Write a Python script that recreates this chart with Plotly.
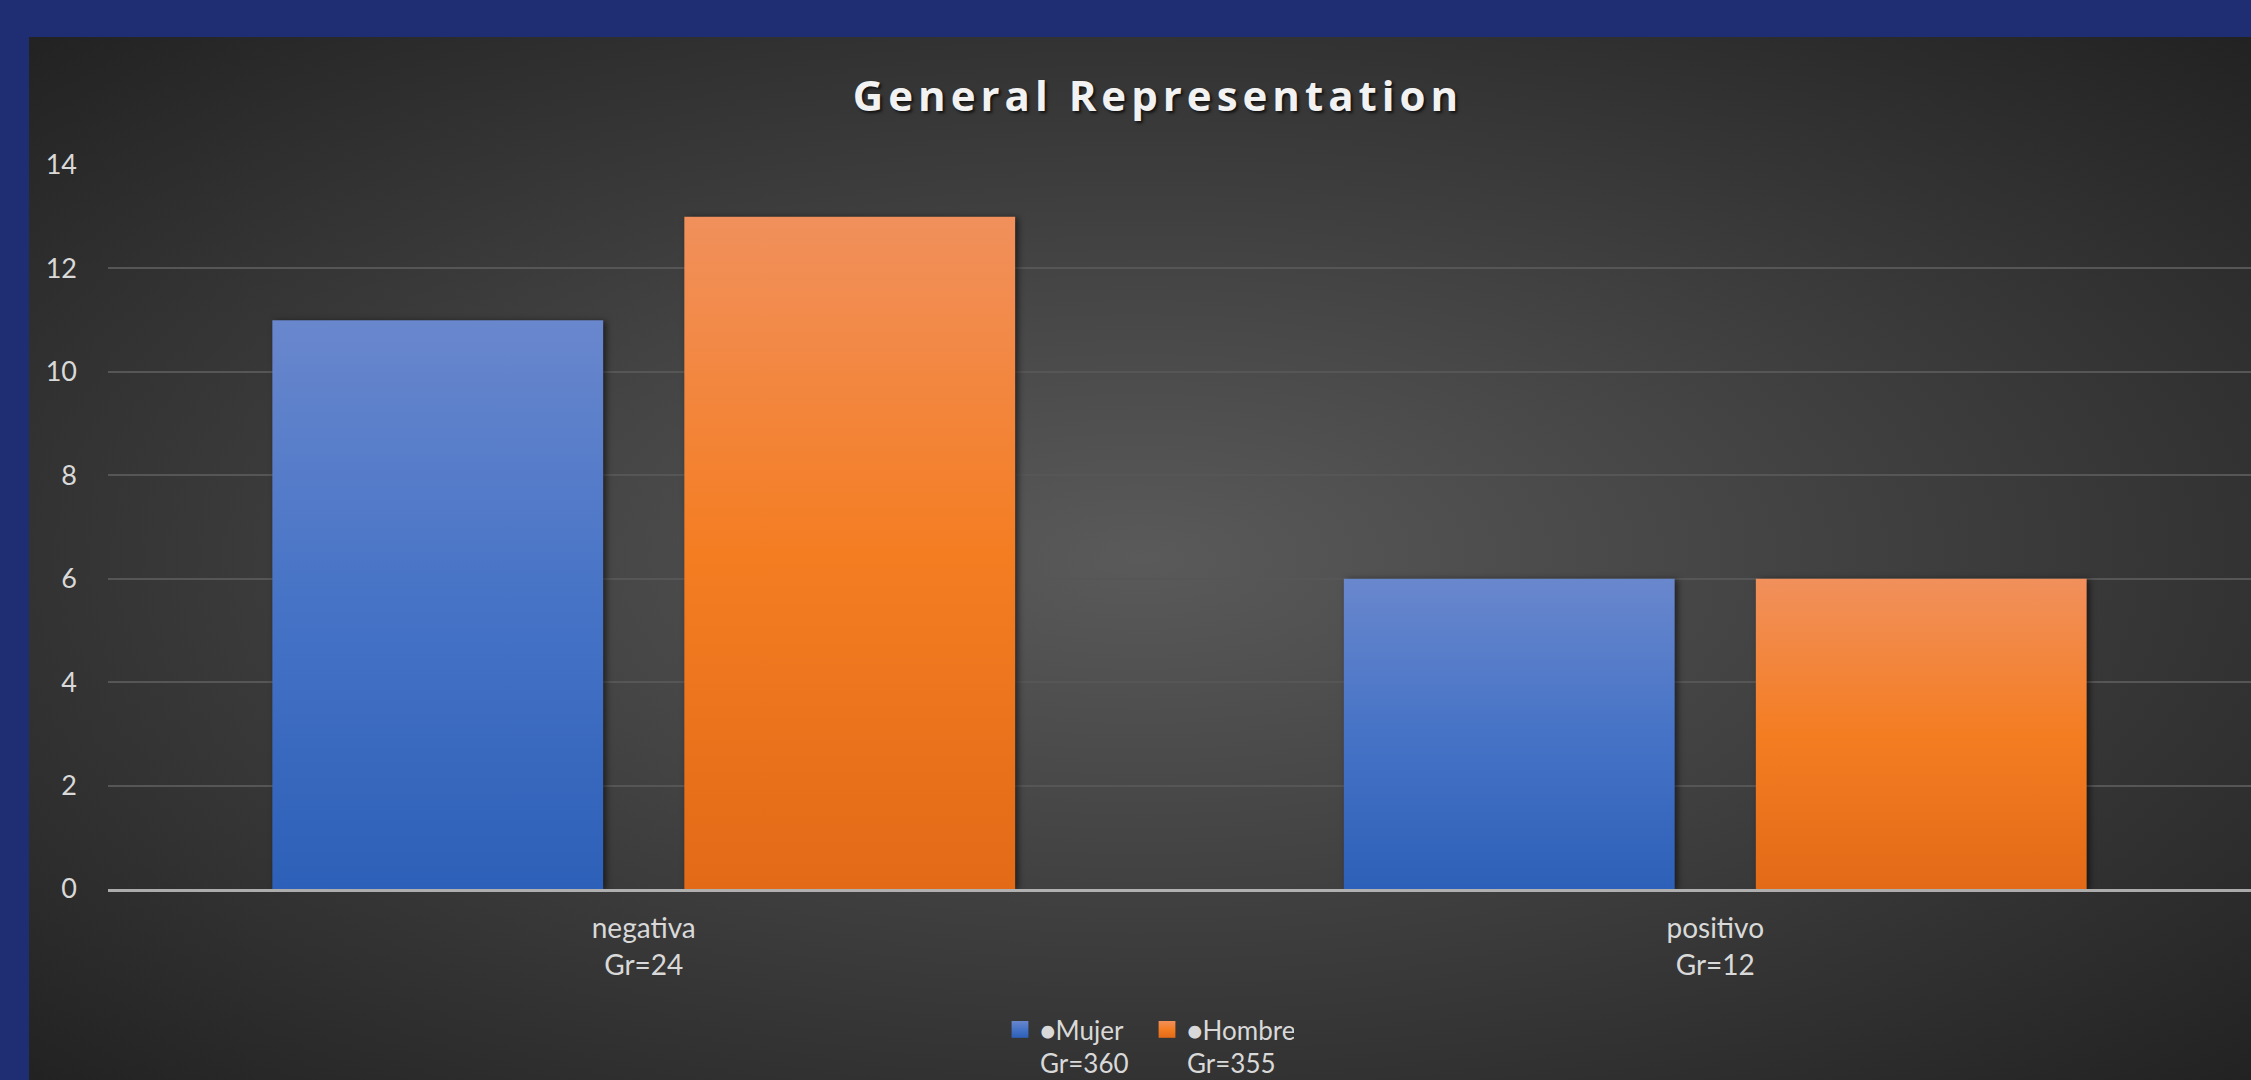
import base64
import plotly.graph_objects as go

categories = ["negativa<br>Gr=24", "positivo<br>Gr=12"]
series_names = ["\u25cfMujer<br>Gr=360", "\u25cfHombre<br>Gr=355"]
mujer = [11, 6]
hombre = [13, 6]
y_ticks = [0, 2, 4, 6, 8, 10, 12, 14]

W, H = 2251, 1080
L, R, T, B = 108, 0, 165, 191
PW, PH = W - L - R, H - T - B

# radial gradient card background as an SVG image
svg = f'''<svg xmlns="http://www.w3.org/2000/svg" width="{W}" height="{H}" viewBox="0 0 {W} {H}" preserveAspectRatio="none">
<defs><radialGradient id="g" cx="50%" cy="50%" r="72%" gradientUnits="objectBoundingBox">
<stop offset="0%" stop-color="#5a5a5a"/><stop offset="100%" stop-color="#212121"/></radialGradient></defs>
<rect x="0" y="0" width="{W}" height="{H}" fill="url(#g)"/></svg>'''
src = "data:image/svg+xml;base64," + base64.b64encode(svg.encode()).decode()

fig = go.Figure()
fig.add_trace(go.Bar(x=categories, y=mujer, name=series_names[0],
                     marker=dict(color="#4A73C3", line=dict(width=0))))
fig.add_trace(go.Bar(x=categories, y=hombre, name=series_names[1],
                     marker=dict(color="#EE7B2E", line=dict(width=0))))

fig.update_layout(
    width=W, height=H,
    paper_bgcolor="#1F2D73",
    plot_bgcolor="rgba(0,0,0,0)",
    margin=dict(l=L, r=R, t=T, b=B, pad=0, autoexpand=False),
    barmode="group", bargap=0.231, bargroupgap=0.197,
    font=dict(family="Lato, 'Open Sans', sans-serif", color="#D9D9D9", size=27),
    title=dict(text="<b>General Representation</b>", x=1158 / W, xanchor="center",
               y=1 - 96 / H, yanchor="middle",
               font=dict(family="Open Sans", size=42, color="#F2F2F2",
                         shadow="2px 2px 3px rgba(0,0,0,0.7)")),
    legend=dict(orientation="h", x=(1000 - L) / PW, xanchor="left",
                y=-(1006 - (H - B)) / PH, yanchor="top", valign="top",
                font=dict(size=26, color="#D9D9D9"), bgcolor="rgba(0,0,0,0)",
                itemwidth=30, traceorder="normal", entrywidth=102, entrywidthmode="pixels"),
    images=[dict(source=src, xref="paper", yref="paper",
                 x=(29 - L) / PW, y=1 + (T - 37) / PH,
                 sizex=(W - 29) / PW, sizey=(H - 37) / PH,
                 xanchor="left", yanchor="top", sizing="stretch", layer="below")],
)
fig.update_yaxes(range=[0, 14], tickvals=y_ticks, showgrid=True, gridcolor="#565656",
                 gridwidth=1.5, zeroline=False, showline=False, ticks="",
                 ticklabelstandoff=30, tickfont=dict(size=27, color="#D9D9D9"))
fig.update_xaxes(showgrid=False, showline=True, linecolor="rgba(225,225,225,0.7)", linewidth=2.5,
                 ticks="", tickfont=dict(size=28, color="#D9D9D9"), ticklabelstandoff=13)

post = """
document.body.style.margin='0';
document.body.style.overflow='hidden';
(function(){
  var gd = document.getElementById('{plot_id}');
  var ns = 'http://www.w3.org/2000/svg';
  var svg = gd.querySelector('svg.main-svg');
  var defs = svg.querySelector('defs');
  if (!defs) { defs = document.createElementNS(ns, 'defs'); svg.insertBefore(defs, svg.firstChild); }
  var grads = [['gradBlue', '#6987CD', '#4673C6', '#2D60B8'],
               ['gradOrange', '#F1905C', '#F47D22', '#E36A17']];
  grads.forEach(function(c){
    var lg = document.createElementNS(ns, 'linearGradient');
    lg.setAttribute('id', c[0]);
    lg.setAttribute('x1', '0'); lg.setAttribute('y1', '0');
    lg.setAttribute('x2', '0'); lg.setAttribute('y2', '1');
    [['0', c[1]], ['0.5', c[2]], ['1', c[3]]].forEach(function(s){
      var st = document.createElementNS(ns, 'stop');
      st.setAttribute('offset', s[0]); st.setAttribute('stop-color', s[1]);
      lg.appendChild(st);
    });
    defs.appendChild(lg);
  });
  var traces = gd.querySelectorAll('.barlayer .trace');
  traces.forEach(function(tr, i){
    tr.querySelectorAll('.point path').forEach(function(p){
      p.style.fill = 'url(#' + grads[i][0] + ')';
      p.style.filter = 'drop-shadow(3px 1px 3px rgba(0,0,0,0.55))';
    });
  });
  var leg = gd.querySelectorAll('.legend .traces');
  leg.forEach(function(tr, i){
    tr.querySelectorAll('.legendpoints path').forEach(function(p){
      p.style.fill = 'url(#' + grads[i][0] + ')';
      var t = p.getAttribute('transform') || '';
      p.setAttribute('transform', t + ' scale(1.4)');
    });
  });
  gd.querySelectorAll('.gtitle').forEach(function(t){ t.style.letterSpacing = '5px'; });
})();
"""
fig.write_html("out.html", post_script=post, config={"displayModeBar": False})
